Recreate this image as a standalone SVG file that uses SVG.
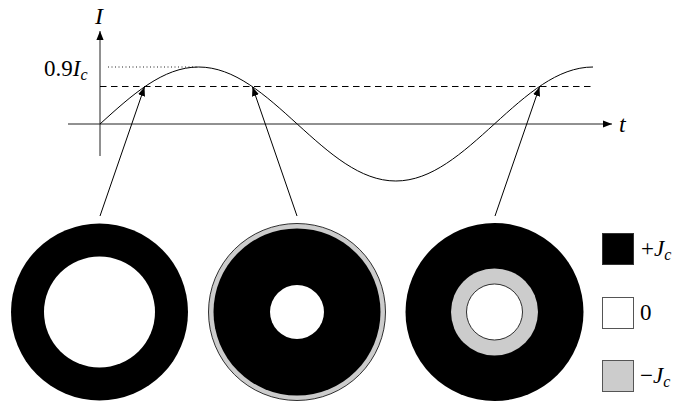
<svg xmlns="http://www.w3.org/2000/svg" width="699" height="405" viewBox="0 0 699 405">
<style>
.ax{stroke:#222;stroke-width:1;fill:none}
.ar{stroke:#000;stroke-width:1;fill:none}
.t{font-family:"Liberation Serif",serif;fill:#000}
.it{font-style:italic}
</style>
<defs>
<marker id="ah" viewBox="0 0 10 10" refX="10" refY="5" markerWidth="9" markerHeight="9" markerUnits="userSpaceOnUse" orient="auto">
<path d="M0,1 L10,5 L0,9 Z" fill="#000"/>
</marker>
</defs>
<rect width="699" height="405" fill="#fff"/>
<g id="axes">
<line class="ax" x1="100" y1="156" x2="100" y2="31" marker-end="url(#ah)"/>
<line class="ax" x1="68" y1="124" x2="612" y2="124" marker-end="url(#ah)"/>
<text class="t it" x="95" y="24" font-size="24">I</text>
<text class="t it" x="619" y="132" font-size="24">t</text>
<text class="t" x="44" y="76" font-size="23">0.9<tspan class="it">I</tspan><tspan class="it" font-size="16" dy="4">c</tspan></text>
</g>
<g id="reference-lines">
<line x1="108" y1="67" x2="199" y2="67" stroke="#222" stroke-width="1" stroke-dasharray="1 2.5"/>
<line x1="100" y1="86.5" x2="594" y2="86.5" stroke="#000" stroke-width="1" stroke-dasharray="6.5 4.5"/>
</g>
<g id="curve">
<path class="ar" d="M100,124 C132.16,94.8 162.92,67 198.6,67 C234.28,67 265.04,94.8 297.2,124 C329.36,153.2 360.12,181 395.8,181 C431.48,181 462.24,153.2 494.4,124 C526.56,94.8 557.32,67 593,67"/>
</g>
<g id="connectors">
<line class="ar" x1="100" y1="216" x2="144.5" y2="87" marker-end="url(#ah)"/>
<line class="ar" x1="297" y1="216" x2="252.5" y2="87" marker-end="url(#ah)"/>
<line class="ar" x1="495" y1="216" x2="539.5" y2="87" marker-end="url(#ah)"/>
</g>
<g id="ring1">
<circle cx="99.5" cy="312" r="88.5" fill="#000"/>
<circle cx="99.5" cy="312" r="55.5" fill="#fff"/>
</g>
<g id="ring2">
<circle cx="297" cy="312" r="88.5" fill="#ccc" stroke="#000" stroke-width="0.8"/>
<circle cx="297" cy="312" r="83.5" fill="#000"/>
<circle cx="297" cy="312" r="27" fill="#fff"/>
</g>
<g id="ring3">
<circle cx="494.5" cy="312" r="89" fill="#000"/>
<circle cx="494.5" cy="312" r="43.5" fill="#ccc"/>
<circle cx="494.5" cy="312" r="28" fill="#fff" stroke="#000" stroke-width="0.8"/>
</g>
<g id="legend-plus">
<rect x="602.5" y="233.5" width="31" height="31" fill="#000" stroke="#333" stroke-width="1"/>
<text class="t" x="641" y="256" font-size="23">+<tspan class="it">J</tspan><tspan class="it" font-size="16" dy="4">c</tspan></text>
</g>
<g id="legend-zero">
<rect x="602.5" y="297.5" width="31" height="31" fill="#fff" stroke="#555" stroke-width="1"/>
<text class="t" x="640" y="320" font-size="23">0</text>
</g>
<g id="legend-minus">
<rect x="602.5" y="360.5" width="31" height="31" fill="#ccc" stroke="#555" stroke-width="1"/>
<text class="t" x="640" y="383" font-size="23">−<tspan class="it">J</tspan><tspan class="it" font-size="16" dy="4">c</tspan></text>
</g>
</svg>
